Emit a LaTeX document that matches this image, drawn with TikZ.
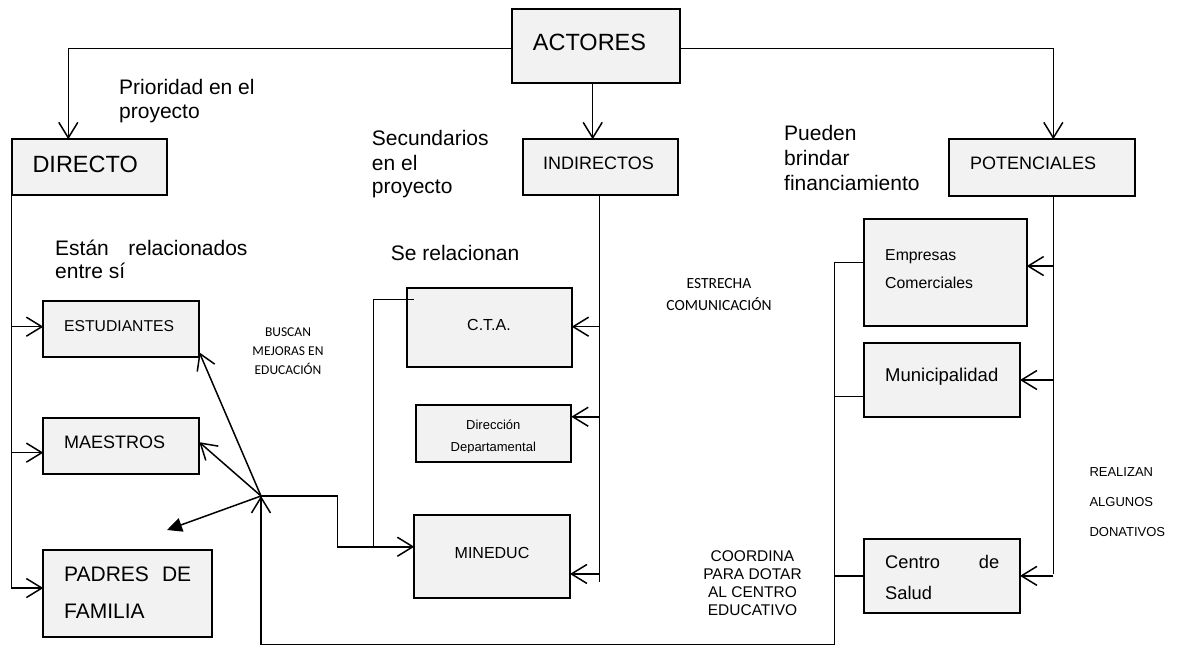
\documentclass[tikz,border=0pt]{standalone}
\usepackage{fontspec}
\setmainfont{Liberation Sans}
\newfontfamily\calibfont{Carlito}
\usetikzlibrary{arrows.meta}
\definecolor{boxgray}{RGB}{242,242,242}
\newcommand\fsz[1]{\fontsize{#1}{#1}\selectfont}
\begin{document}
\begin{tikzpicture}[x=1pt,y=-1pt,
  box/.style={draw, line width=1.7pt, fill=boxgray, inner sep=0pt, outer sep=0pt, anchor=north west},
  ln/.style={line width=1.5pt},
  barb/.style={-{Straight Barb[length=15.5pt,width=19pt]}},
  tri/.style={-{Triangle[length=15pt,width=14pt]}},
  tl/.style={inner sep=0pt, anchor=base west},
  tc/.style={inner sep=0pt, anchor=base}]
\useasboundingbox (0,0) rectangle (1177,646);

% boxes
\node[box, minimum width=168.3pt, minimum height=73.4pt] (act) at (511.7,9.3) {};
\node[box, minimum width=155.6pt, minimum height=55.7pt] (dir) at (11.7,139.3) {};
\node[box, minimum width=155pt, minimum height=55.7pt] (ind) at (523.3,139.3) {};
\node[box, minimum width=185.7pt, minimum height=56.7pt] (pot) at (949.3,139.3) {};
\node[box, minimum width=156pt, minimum height=56.6pt] (est) at (43.3,300.7) {};
\node[box, minimum width=156pt, minimum height=55.7pt] (mae) at (43.3,418.3) {};
\node[box, minimum width=169pt, minimum height=87.3pt] (pad) at (43.3,550) {};
\node[box, minimum width=164.4pt, minimum height=79pt] (cta) at (407.3,288.3) {};
\node[box, minimum width=155.6pt, minimum height=56.7pt] (dd) at (415.7,405) {};
\node[box, minimum width=155.7pt, minimum height=82.7pt] (min) at (414.3,515) {};
\node[box, minimum width=162.4pt, minimum height=106.7pt] (emp) at (864.3,219.3) {};
\node[box, minimum width=155.7pt, minimum height=73.4pt] (mun) at (864.3,343.3) {};
\node[box, minimum width=155.7pt, minimum height=73.7pt] (cds) at (864.3,539) {};

% top connectors
\draw[ln,barb] ([yshift=-2.3pt]act.west) -| ([xshift=56.6pt]dir.north west);
\draw[ln,barb] ([yshift=-2.3pt]act.east) -| ([xshift=104pt]pot.north west);
\draw[ln,barb] ([xshift=81pt]act.south west) -- ([xshift=69.4pt]ind.north west);

% directo spine
\coordinate (estIn) at ([yshift=2.3pt]est.west);
\coordinate (maeIn) at ([yshift=-6.5pt]mae.west);
\coordinate (padIn) at ([yshift=5.6pt]pad.west);
\draw[ln,barb] (dir.south west) |- (padIn);
\draw[ln,barb] (dir.south west |- estIn) -- (estIn);
\draw[ln,barb] (dir.south west |- maeIn) -- (maeIn);

% junction
\coordinate (J) at (261,496);
\coordinate (tipP) at (167,530);
\draw[ln,barb] (J) -- ([yshift=5pt]est.south east);
\draw[ln,barb] (J) -- ([yshift=4pt]mae.east);
\draw[ln,tri] (J) -- (tipP);
\coordinate (minIn) at ([yshift=9.6pt]min.west);
\draw[ln,barb] (J) -- ++(76.3,0) |- (minIn);
\draw[ln] ([xshift=-41pt]minIn) |- ([xshift=6.7pt,yshift=-11pt]cta.north west);

% indirectos spine
\coordinate (is) at ([xshift=-1.5pt]ind.south);
\draw[ln] (is) -- ++(0,387.3);
\coordinate (ctaIn) at ([yshift=1.1pt]cta.east);
\coordinate (ddIn) at ([yshift=16.6pt]dd.east);
\coordinate (minR) at ([yshift=-17.6pt]min.east);
\draw[ln,barb] (is |- ctaIn) -- (ctaIn);
\draw[ln,barb] (is |- ddIn) -- (ddIn);
\draw[ln,barb] (is |- minR) -- (minR);

% potenciales spine
\coordinate (ps) at ([xshift=11.15pt]pot.south);
\draw[ln] (ps) -- ++(0,378);
\coordinate (empIn) at ([yshift=6.6pt]emp.east);
\draw[ln,barb] (ps |- empIn) -- (empIn);
\draw[ln,barb] (ps |- mun.east) -- (mun.east);
\draw[ln,barb] (ps |- cds.east) -- (cds.east);

% bottom loop
\coordinate (empOut) at ([yshift=10pt]emp.west);
\coordinate (bus) at (834.3,644.5);
\draw[ln,barb] (empOut) -| (bus) -| (J);
\coordinate (munOut) at ([yshift=-16.7pt]mun.west);
\draw[ln] (munOut) -- (munOut -| bus);
\draw[ln] (cds.west) -- (cds.west -| bus);

% texts
\node[tl, font=\fsz{23.5}] (tAct) at (532.7,50) {ACTORES};
\node[tl, font=\fsz{23.5}] (tDir) at (32.3,172.3) {DIRECTO};
\node[tl, font=\fsz{18}] (tInd) at (543,169) {INDIRECTOS};
\node[tl, font=\fsz{18}] (tPot) at (970,169) {POTENCIALES};
\node[tl, font=\fsz{21}] (tPr1) at (119,94.3) {Prioridad en el};
\node[tl, font=\fsz{21}] (tPr2) at (119,118.3) {proyecto};
\node[tl, font=\fsz{21}] (tSe1) at (371.7,145.7) {Secundarios};
\node[tl, font=\fsz{21}] (tSe2) at (371.7,170) {en el};
\node[tl, font=\fsz{21}] (tSe3) at (371.7,193.3) {proyecto};
\node[tl, font=\fsz{21}] (tPu1) at (784,140) {Pueden};
\node[tl, font=\fsz{21}] (tPu2) at (784,165.7) {brindar};
\node[tl, font=\fsz{21}] (tPu3) at (784,190.7) {financiamiento};
\node[tl, font=\fsz{21}] (tEs1) at (55,255) {\makebox[192.3pt][s]{Están relacionados}};
\node[tl, font=\fsz{21}] (tEs2) at (55,278.3) {entre sí};
\node[tl, font=\fsz{15.7}] (tEst) at (64,331) {ESTUDIANTES};
\node[tl, font=\fsz{18}] (tMae) at (64,448.3) {MAESTROS};
\node[tl, font=\fsz{21}] (tPa1) at (64,581.7) {\makebox[127pt][s]{PADRES DE}};
\node[tl, font=\fsz{21}] (tPa2) at (64,618.3) {FAMILIA};
\node[tc, font=\calibfont\fsz{13.5}] (tBu1) at (288,336.7) {BUSCAN};
\node[tc, font=\calibfont\fsz{13.5}] (tBu2) at (288,355) {MEJORAS EN};
\node[tc, font=\calibfont\fsz{13.5}] (tBu3) at (288,374) {EDUCACIÓN};
\node[tl, font=\fsz{21}] (tRel) at (390.7,260.7) {Se relacionan};
\node[tc, font=\calibfont\fsz{15.5}] (tEc1) at (719,288.3) {ESTRECHA};
\node[tc, font=\calibfont\fsz{15.5}] (tEc2) at (719,310) {COMUNICACIÓN};
\node[tc, font=\fsz{16}] (tCta) at (489,330.7) {C.T.A.};
\node[tc, font=\fsz{13}] (tDd1) at (493.3,429.3) {Dirección};
\begin{scope}
\clip (415,435) rectangle (572,452.6);
\node[tc, font=\fsz{13}] (tDd2) at (493.3,451.7) {Departamental};
\end{scope}
\node[tc, font=\fsz{16}] (tMin) at (492,558.3) {MINEDUC};
\node[tc, font=\fsz{15.5}] (tCo1) at (752.5,561) {COORDINA};
\node[tc, font=\fsz{15.5}] (tCo2) at (752.5,579.3) {PARA DOTAR};
\node[tc, font=\fsz{15.5}] (tCo3) at (752.5,597.3) {AL CENTRO};
\node[tc, font=\fsz{15.5}] (tCo4) at (752.5,615.7) {EDUCATIVO};
\node[tl, font=\fsz{13}] (tRe1) at (1089.3,476.7) {REALIZAN};
\node[tl, font=\fsz{13}] (tRe2) at (1089.3,506) {ALGUNOS};
\node[tl, font=\fsz{13}] (tRe3) at (1089.3,536.7) {DONATIVOS};
\node[tl, font=\fsz{15.8}] (tEm1) at (885,260) {Empresas};
\node[tl, font=\fsz{15.8}] (tEm2) at (885,288.3) {Comerciales};
\node[tl, font=\fsz{18.5}] (tMun) at (885,381.7) {Municipalidad};
\node[tl, font=\fsz{18.3}] (tCd1) at (885,568.3) {\makebox[114pt][s]{Centro de}};
\node[tl, font=\fsz{18.3}] (tCd2) at (885,599.3) {Salud};
\end{tikzpicture}
\end{document}
